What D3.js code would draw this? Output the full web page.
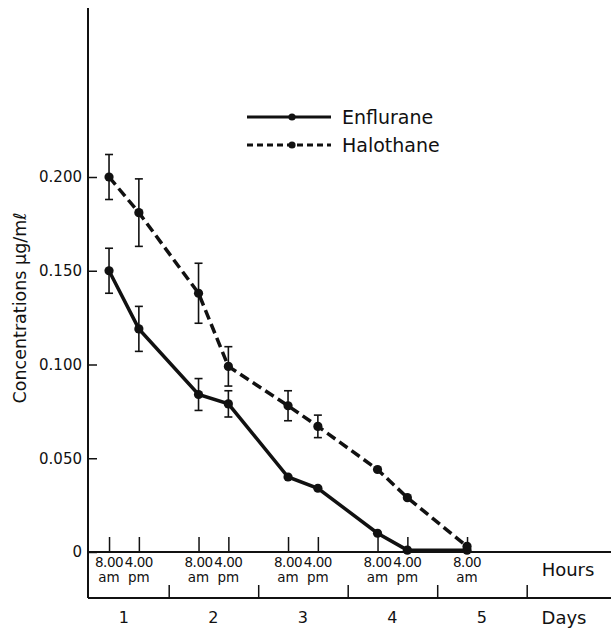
<!DOCTYPE html>
<head>
<meta charset="utf-8">
<style>
body { margin: 0; background: #fff; }
text { font-family: "DejaVu Sans", sans-serif; fill: #111; }
</style>
</head>
<body>
<svg width="611" height="630"></svg>
<script src="https://cdn.jsdelivr.net/npm/d3@7"></script>
<script>
// hours counted from midnight before day 1
var hours = [8, 16, 32, 40, 56, 64, 80, 88, 104]
var hourLabels = ["8.00|am", "4.00|pm", "8.00|am", "4.00|pm", "8.00|am", "4.00|pm", "8.00|am", "4.00|pm", "8.00|am"]
var days = ["1", "2", "3", "4", "5"]
var enflurane = [0.150, 0.119, 0.084, 0.079, 0.040, 0.034, 0.010, 0.001, 0.001]
var enfluraneErr = [0.012, 0.012, 0.0085, 0.007, 0, 0, 0, 0, 0]
var halothane = [0.200, 0.181, 0.138, 0.099, 0.078, 0.067, 0.044, 0.029, 0.003]
var halothaneErr = [0.012, 0.018, 0.016, 0.0105, 0.008, 0.006, 0, 0, 0]
var yTicks = [0, 0.05, 0.1, 0.15, 0.2]

var svg = d3.select("svg"),
    W = +svg.attr("width")

var x = d3.scaleLinear().domain([0, 120]).range([79.2, 526.7]),
    y = d3.scaleLinear().domain([0, 0.2]).range([552, 177])

var axisX = 88, hoursY = y(0), daysY = 598

// y axis
svg.append("line").attr("x1", axisX).attr("x2", axisX).attr("y1", 8).attr("y2", daysY)
    .attr("stroke", "#111").attr("stroke-width", 2)

var yAxis = svg.append("g").attr("transform", "translate(" + axisX + ",0)")
    .call(d3.axisRight(y).tickValues(yTicks).tickSize(9).tickFormat(""))
yAxis.select(".domain").remove()
yAxis.selectAll("line").attr("stroke", "#111").attr("stroke-width", 1.5)

svg.selectAll(".ylab").data(yTicks).enter().append("text")
    .attr("class", "ylab")
    .attr("x", 82).attr("y", d => y(d)).attr("dy", "0.35em")
    .attr("text-anchor", "end").style("font-size", "15px")
    .text(d => d === 0 ? "0" : d3.format(".3f")(d))

svg.append("text")
    .attr("transform", "translate(26," + 308 + ") rotate(-90)")
    .attr("text-anchor", "middle").style("font-size", "17.5px")
    .text("Concentrations \u03bcg/m\u2113")

// hours & days axes
svg.append("line").attr("x1", axisX).attr("x2", W).attr("y1", hoursY).attr("y2", hoursY)
    .attr("stroke", "#111").attr("stroke-width", 2)
svg.append("line").attr("x1", axisX).attr("x2", W).attr("y1", daysY).attr("y2", daysY)
    .attr("stroke", "#111").attr("stroke-width", 2)

var hAxis = svg.append("g").attr("transform", "translate(0," + hoursY + ")")
    .call(d3.axisTop(x).tickValues(hours).tickSize(15).tickFormat(""))
hAxis.select(".domain").remove()
hAxis.selectAll("line").attr("stroke", "#111").attr("stroke-width", 1.5)

var hl = svg.selectAll(".hlab").data(hours).enter().append("text")
    .attr("class", "hlab").attr("text-anchor", "middle").style("font-size", "13.5px")
    .attr("transform", d => "translate(" + x(d) + ",0)")
hl.append("tspan").attr("x", 0).attr("y", 567).attr("letter-spacing", "-0.5px")
    .text((d, i) => hourLabels[i].split("|")[0])
hl.append("tspan").attr("x", 0).attr("y", 582).text((d, i) => hourLabels[i].split("|")[1])

var dAxis = svg.append("g").attr("transform", "translate(0," + daysY + ")")
    .call(d3.axisTop(x).tickValues([24, 48, 72, 96, 120]).tickSize(13).tickFormat(""))
dAxis.select(".domain").remove()
dAxis.selectAll("line").attr("stroke", "#111").attr("stroke-width", 1.5)

svg.selectAll(".dlab").data(days).enter().append("text")
    .attr("class", "dlab").attr("text-anchor", "middle").style("font-size", "16px")
    .attr("x", (d, i) => x(12 + 24 * i)).attr("y", 623)
    .text(d => d)

svg.append("text").attr("x", 568).attr("y", 576).attr("text-anchor", "middle")
    .style("font-size", "18px").text("Hours")
svg.append("text").attr("x", 564).attr("y", 624).attr("text-anchor", "middle")
    .style("font-size", "18px").text("Days")

// series
function drawSeries(vals, errs, dash) {
  var pts = hours.map((h, i) => ({h: h, v: vals[i], e: errs[i]}))
  var line = d3.line().x(d => x(d.h)).y(d => y(d.v))
  svg.append("path").datum(pts).attr("d", line)
      .attr("fill", "none").attr("stroke", "#111").attr("stroke-width", 3.5)
      .attr("stroke-dasharray", dash)
  var eb = svg.selectAll(null).data(pts.filter(d => d.e > 0)).enter().append("g")
      .attr("stroke", "#111").attr("stroke-width", 1.6)
  eb.append("line").attr("x1", d => x(d.h)).attr("x2", d => x(d.h))
      .attr("y1", d => y(d.v + d.e)).attr("y2", d => y(d.v - d.e))
  eb.append("line").attr("x1", d => x(d.h) - 4).attr("x2", d => x(d.h) + 4)
      .attr("y1", d => y(d.v + d.e)).attr("y2", d => y(d.v + d.e))
  eb.append("line").attr("x1", d => x(d.h) - 4).attr("x2", d => x(d.h) + 4)
      .attr("y1", d => y(d.v - d.e)).attr("y2", d => y(d.v - d.e))
  svg.selectAll(null).data(pts).enter().append("circle")
      .attr("cx", d => x(d.h)).attr("cy", d => y(d.v)).attr("r", 4.6).attr("fill", "#111")
}
drawSeries(enflurane, enfluraneErr, null)
drawSeries(halothane, halothaneErr, "10,5")

// legend
var legend = [["Enflurane", null, 3, 117], ["Halothane", "6,4", 3, 145]]
legend.forEach(function(l) {
  svg.append("line").attr("x1", 247).attr("x2", 331).attr("y1", l[3]).attr("y2", l[3])
      .attr("stroke", "#111").attr("stroke-width", l[2]).attr("stroke-dasharray", l[1])
  svg.append("circle").attr("cx", 292).attr("cy", l[3]).attr("r", 3.6).attr("fill", "#111")
  svg.append("text").attr("x", 342).attr("y", l[3]).attr("dy", "0.36em")
      .style("font-size", "19px").text(l[0])
})
</script>
</body>
